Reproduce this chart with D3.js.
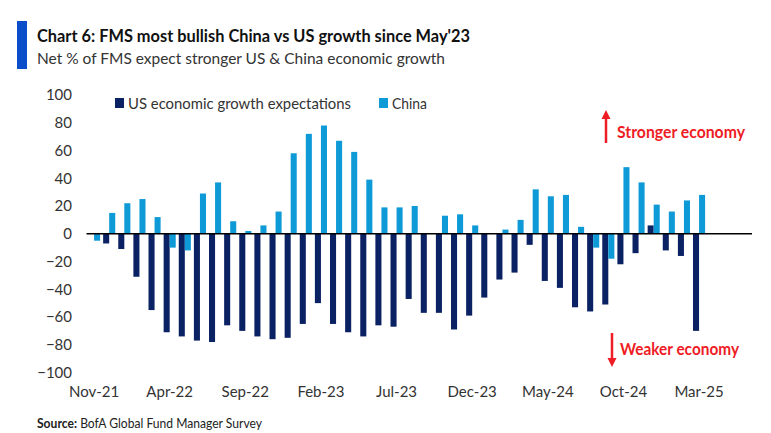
<!DOCTYPE html>
<html>
<head>
<meta charset="utf-8">
<script src="https://cdn.jsdelivr.net/npm/d3@7"></script>
<style>
  html, body { margin: 0; padding: 0; background: #fff; }
  svg { display: block; }
  text { font-family: Lato, "Open Sans", Roboto, sans-serif; }
</style>
</head>
<body>
<div id="chart"></div>
<script>
// ---- Data ----
const months = [
  "Nov-21","Dec-21","Jan-22","Feb-22","Mar-22","Apr-22","May-22","Jun-22","Jul-22","Aug-22",
  "Sep-22","Oct-22","Nov-22","Dec-22","Jan-23","Feb-23","Mar-23","Apr-23","May-23","Jun-23",
  "Jul-23","Aug-23","Sep-23","Oct-23","Nov-23","Dec-23","Jan-24","Feb-24","Mar-24","Apr-24",
  "May-24","Jun-24","Jul-24","Aug-24","Sep-24","Oct-24","Nov-24","Dec-24","Jan-25","Feb-25",
  "Mar-25","Apr-25","May-25","Jun-25"
];
const usGrowth = [
  null, -7, -11, -31, -55, -71, -74, -77, -78, -66,
  -70, -74, -76, -75, -65, -50, -65, -71, -74, -66,
  -67, -47, -57, -57, -69, -59, -46, -33, -28, -8,
  -34, -39, -53, -56, -51, -22, -14, 6, -12, -16,
  -70, null, null, null
];
const chinaGrowth = [
  -5, 15, 22, 25, 12, -10, -12, 29, 37, 9,
  2, 6, 16, 58, 72, 78, 67, 59, 39, 19,
  19, 20, 0, 13, 14, 6, 0, 3, 10, 32,
  27, 28, 5, -10, -18, 48, 37, 21, 16, 24,
  28, null, null, null
];
const yTicks = [100, 80, 60, 40, 20, 0, -20, -40, -60, -80, -100];
const xTickLabels = ["Nov-21","Apr-22","Sep-22","Feb-23","Jul-23","Dec-23","May-24","Oct-24","Mar-25"];
const seriesNames = ["US economic growth expectations", "China"];
const seriesKeys = ["US", "China"];

// ---- Setup ----
const W = 771, H = 433;
const colors = { US: "#0a2163", China: "#0d9ad7" };
const red = "#ee1c25";

const svg = d3.select("#chart").append("svg")
  .attr("width", W).attr("height", H);

// Title block
svg.append("rect").attr("x", 17).attr("y", 21).attr("width", 10).attr("height", 48)
  .attr("fill", "#0a4fc9");
svg.append("text").attr("x", 37).attr("y", 42)
  .attr("font-size", 16.5).attr("font-weight", "bold").attr("fill", "#111")
  .attr("textLength", 433).attr("lengthAdjust", "spacingAndGlyphs")
  .text("Chart 6: FMS most bullish China vs US growth since May'23");
svg.append("text").attr("x", 37).attr("y", 64)
  .attr("font-size", 15).attr("fill", "#333")
  .attr("textLength", 408).attr("lengthAdjust", "spacingAndGlyphs")
  .text("Net % of FMS expect stronger US & China economic growth");

// Scales
const x0 = d3.scaleBand().domain(months).range([86.5, 752]).padding(0);
const x1 = d3.scaleBand().domain(seriesKeys).range([0, x0.bandwidth()])
  .paddingInner(0).paddingOuter(0.25);
const y = d3.scaleLinear().domain([-100, 100]).range([372.5, 95]);

// Y axis labels
const yAxis = d3.axisLeft(y).tickValues(yTicks).tickSize(0).tickPadding(0)
  .tickFormat(d3.format("d"));
const gy = svg.append("g").attr("transform", "translate(72,0)").call(yAxis);
gy.select(".domain").remove();
gy.selectAll("text").attr("font-size", 15).attr("fill", "#333")
  .style("font-family", "Lato, 'Open Sans', sans-serif");

// X axis labels
const xAxis = d3.axisBottom(x0).tickValues(xTickLabels).tickSize(0).tickPadding(0);
const gx = svg.append("g").attr("transform", "translate(0,386)").call(xAxis);
gx.select(".domain").remove();
gx.selectAll("text").attr("font-size", 15).attr("fill", "#333").attr("dy", "0.71em")
  .style("font-family", "Lato, 'Open Sans', sans-serif");

// Bars
const rows = months.map((m, i) => ({ m, US: usGrowth[i], China: chinaGrowth[i] }));
const groups = svg.append("g").selectAll("g").data(rows).join("g")
  .attr("transform", d => `translate(${x0(d.m)},0)`);
groups.selectAll("rect")
  .data(d => seriesKeys.map(k => ({ k, v: d[k] })).filter(e => e.v !== null && e.v !== 0))
  .join("rect")
  .attr("x", d => x1(d.k))
  .attr("width", x1.bandwidth())
  .attr("y", d => y(Math.max(0, d.v)))
  .attr("height", d => Math.abs(y(d.v) - y(0)))
  .attr("fill", d => colors[d.k]);

// Zero line
svg.append("line")
  .attr("x1", x0.range()[0]).attr("x2", x0.range()[1])
  .attr("y1", y(0)).attr("y2", y(0))
  .attr("stroke", "#000").attr("stroke-width", 1.5);

// Legend
const legend = svg.append("g");
const legendItems = [
  { key: "US", name: seriesNames[0], x: 115, len: 223 },
  { key: "China", name: seriesNames[1], x: 379, len: 35 }
];
legendItems.forEach(it => {
  legend.append("rect").attr("x", it.x).attr("y", 98).attr("width", 9).attr("height", 10)
    .attr("fill", colors[it.key]);
  legend.append("text").attr("x", it.x + 13).attr("y", 108.5)
    .attr("font-size", 15).attr("fill", "#333")
    .attr("textLength", it.len).attr("lengthAdjust", "spacingAndGlyphs")
    .text(it.name);
});

// Annotations
function arrow(xp, yTail, yTip) {
  const dir = yTip < yTail ? -1 : 1;
  svg.append("line").attr("x1", xp).attr("x2", xp)
    .attr("y1", yTail).attr("y2", yTip - dir * 8)
    .attr("stroke", red).attr("stroke-width", 2.5);
  svg.append("path")
    .attr("d", `M${xp - 4.5},${yTip - dir * 9} L${xp + 4.5},${yTip - dir * 9} L${xp},${yTip} Z`)
    .attr("fill", red);
}
arrow(606, 143, 110);
svg.append("text").attr("x", 617).attr("y", 137.5)
  .attr("font-size", 17).attr("font-weight", "bold").attr("fill", red)
  .attr("textLength", 128).attr("lengthAdjust", "spacingAndGlyphs")
  .text("Stronger economy");
arrow(612, 333, 367);
svg.append("text").attr("x", 620).attr("y", 355)
  .attr("font-size", 17).attr("font-weight", "bold").attr("fill", red)
  .attr("textLength", 119).attr("lengthAdjust", "spacingAndGlyphs")
  .text("Weaker economy");

// Source
const src = svg.append("text").attr("x", 37).attr("y", 428)
  .attr("font-size", 12.5).attr("fill", "#222")
  .attr("textLength", 225).attr("lengthAdjust", "spacingAndGlyphs");
src.append("tspan").attr("font-weight", "bold").text("Source:");
src.append("tspan").text(" BofA Global Fund Manager Survey");
</script>
</body>
</html>
